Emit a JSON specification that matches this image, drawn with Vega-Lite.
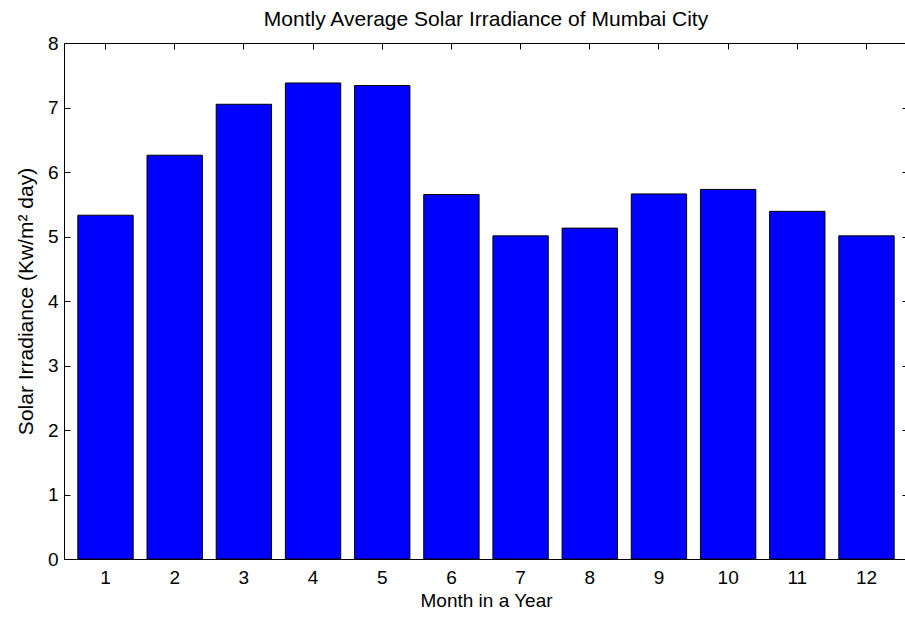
{
  "$schema": "https://vega.github.io/schema/vega-lite/v6.json",
  "width": 844,
  "height": 516,
  "autosize": {"type": "none"},
  "padding": {"left": 64, "top": 43, "right": 0, "bottom": 60},
  "background": "white",
  "config": {
    "font": "Liberation Sans",
    "view": {"stroke": "black", "strokeWidth": 1},
    "axis": {
      "domainColor": "black",
      "tickColor": "black",
      "labelColor": "black",
      "titleColor": "black",
      "labelFont": "Liberation Sans",
      "titleFont": "Liberation Sans",
      "labelFontSize": 19,
      "titleFontSize": 19,
      "titleFontWeight": "normal",
      "grid": false,
      "tickSize": -6
    }
  },
  "title": {
    "text": "Montly Average Solar Irradiance of Mumbai City",
    "font": "Liberation Sans",
    "fontSize": 21,
    "fontWeight": "normal",
    "color": "black",
    "offset": 4
  },
  "data": {
    "values": [
      {"month": 1, "irradiance": 5.33},
      {"month": 2, "irradiance": 6.26},
      {"month": 3, "irradiance": 7.05},
      {"month": 4, "irradiance": 7.38},
      {"month": 5, "irradiance": 7.34},
      {"month": 6, "irradiance": 5.65},
      {"month": 7, "irradiance": 5.01},
      {"month": 8, "irradiance": 5.13},
      {"month": 9, "irradiance": 5.66},
      {"month": 10, "irradiance": 5.73},
      {"month": 11, "irradiance": 5.39},
      {"month": 12, "irradiance": 5.01}
    ]
  },
  "layer": [
    {
      "mark": {"type": "bar", "color": "#0000FF", "stroke": "black", "strokeWidth": 1},
      "encoding": {
        "x": {
          "field": "month",
          "type": "ordinal",
          "scale": {"paddingInner": 0.2, "paddingOuter": 0.2},
          "axis": {"title": "Month in a Year", "labelAngle": 0, "labelPadding": 15, "titlePadding": 4, "domain": false}
        },
        "y": {
          "field": "irradiance",
          "type": "quantitative",
          "scale": {"domain": [0, 8], "nice": false},
          "axis": {"title": "Solar Irradiance (Kw/m² day)", "titleFontSize": 21, "values": [0,1,2,3,4,5,6,7,8], "labelPadding": 12, "titlePadding": 11, "domain": false}
        }
      }
    },
    {
      "mark": {"type": "bar", "opacity": 0},
      "encoding": {
        "x": {
          "field": "month",
          "type": "ordinal",
          "axis": {"orient": "top", "labels": false, "title": null, "domain": false}
        },
        "y": {
          "field": "irradiance",
          "type": "quantitative",
          "axis": {"orient": "right", "labels": false, "title": null, "values": [0,1,2,3,4,5,6,7,8], "domain": false}
        }
      }
    }
  ],
  "resolve": {"axis": {"x": "independent", "y": "independent"}}
}
